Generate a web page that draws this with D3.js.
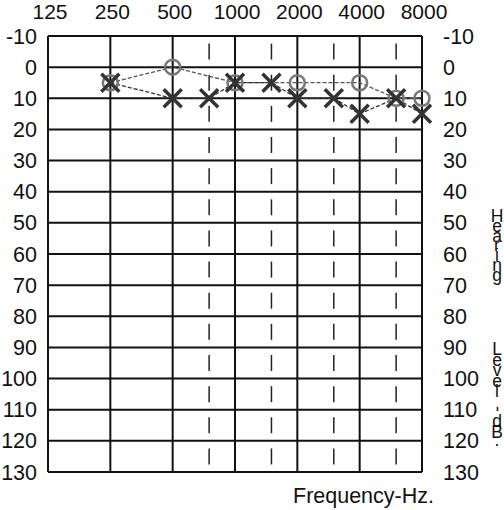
<!DOCTYPE html>
<html><head><meta charset="utf-8">
<script src="https://cdn.jsdelivr.net/npm/d3@7"></script>
<style>body{margin:0;background:#fff}svg{display:block}text{font-family:"Liberation Sans",Arial,sans-serif;fill:#111}</style>
</head><body><svg id="c" width="504" height="510"></svg>
<script>
const octaveFreqs = [125, 250, 500, 1000, 2000, 4000, 8000];
const halfOctaveFreqs = [750, 1500, 3000, 6000];
const dbTicks = [-10, 0, 10, 20, 30, 40, 50, 60, 70, 80, 90, 100, 110, 120, 130];
const rightEarFreq = [250, 500, 1000, 2000, 4000, 6000, 8000];
const rightEarDb   = [5, 0, 5, 5, 5, 10, 10];
const leftEarFreq  = [250, 500, 750, 1000, 1500, 2000, 3000, 4000, 6000, 8000];
const leftEarDb    = [5, 10, 10, 5, 5, 10, 10, 15, 10, 15];
const xTitle = "Frequency-Hz.";
const yTitleWords = ["Hearing", "Level", "-dB."];

const svg = d3.select("#c");
const x = d3.scaleLog().domain([125, 8000]).range([48, 422]);
const y = d3.scaleLinear().domain([-10, 130]).range([36, 472]);

// horizontal grid
svg.append("g").selectAll("line").data(dbTicks).join("line")
  .attr("x1", x(125)).attr("x2", x(8000))
  .attr("y1", d => y(d)).attr("y2", d => y(d))
  .attr("stroke", "#111").attr("stroke-width", 2);
// vertical grid
svg.append("g").selectAll("line").data(octaveFreqs).join("line")
  .attr("x1", d => x(d)).attr("x2", d => x(d))
  .attr("y1", y(-10)).attr("y2", y(130))
  .attr("stroke", "#111").attr("stroke-width", 2);
// half-octave dashes: one short dash per row
const rows = dbTicks.slice(0, -1);
const dashData = [];
halfOctaveFreqs.forEach(f => rows.forEach(r => dashData.push({f, r})));
svg.append("g").selectAll("line").data(dashData).join("line")
  .attr("x1", d => x(d.f)).attr("x2", d => x(d.f))
  .attr("y1", d => (y(d.r) + y(d.r + 10)) / 2 - 8)
  .attr("y2", d => (y(d.r) + y(d.r + 10)) / 2 + 8)
  .attr("stroke", "#222").attr("stroke-width", 1.5);

// axis labels
svg.append("g").selectAll("text").data(octaveFreqs).join("text")
  .attr("x", d => x(d) + 2).attr("y", 19).attr("text-anchor", "middle")
  .attr("font-size", 21).text(d => d);
svg.append("g").selectAll("text").data(dbTicks).join("text")
  .attr("x", 37).attr("y", d => y(d) + 7.5).attr("text-anchor", "end")
  .attr("font-size", 21.5).text(d => d);
svg.append("g").selectAll("text").data(dbTicks).join("text")
  .attr("x", 443).attr("y", d => y(d) + 7.5).attr("text-anchor", "start")
  .attr("font-size", 21.5).text(d => d);

svg.append("text").attr("x", 293).attr("y", 503).attr("font-size", 21.5).text(xTitle);

// vertical stacked title, one text element with a tspan per character
const starts = [222, 355, 406];
const steps = [9.8, 10.5, 0];
const stack = [];
yTitleWords.forEach((w, wi) => {
  [...w].forEach((ch, i) => {
    let yy = starts[wi] + i * steps[wi];
    if (wi === 2 && ch === "d") yy = 427;
    if (wi === 2 && ch === "B") yy = 438;
    if (wi === 2 && ch === ".") yy = 446;
    stack.push({ch, y: yy});
  });
});
const title = svg.append("text").attr("font-size", 17.5).attr("text-anchor", "middle");
title.selectAll("tspan").data(stack).join("tspan")
  .attr("x", d => d.ch === "-" ? 495 : 497)
  .attr("y", d => d.y)
  .attr("rotate", d => d.ch === "-" ? 90 : 0)
  .text(d => d.ch);

// series lines
const rightPts = rightEarFreq.map((f, i) => [f, rightEarDb[i]]);
const leftPts = leftEarFreq.map((f, i) => [f, leftEarDb[i]]);
const line = d3.line().x(d => x(d[0])).y(d => y(d[1]));
svg.append("path").attr("d", line(rightPts)).attr("fill", "none")
  .attr("stroke", "#555").attr("stroke-width", 1.3).attr("stroke-dasharray", "4,2");
svg.append("path").attr("d", line(leftPts)).attr("fill", "none")
  .attr("stroke", "#333").attr("stroke-width", 1.3).attr("stroke-dasharray", "4,2");

// markers
svg.append("g").selectAll("circle").data(rightPts).join("circle")
  .attr("cx", d => x(d[0])).attr("cy", d => y(d[1])).attr("r", 7.5)
  .attr("fill", "none").attr("stroke", "#777").attr("stroke-width", 2.5);
const s = 9;
svg.append("g").selectAll("path").data(leftPts).join("path")
  .attr("d", d => {
    const cx = x(d[0]), cy = y(d[1]);
    return `M${cx - s},${cy - s}L${cx + s},${cy + s}M${cx + s},${cy - s}L${cx - s},${cy + s}`;
  })
  .attr("stroke", "#333").attr("stroke-width", 3.5).attr("fill", "none");
</script></body></html>
